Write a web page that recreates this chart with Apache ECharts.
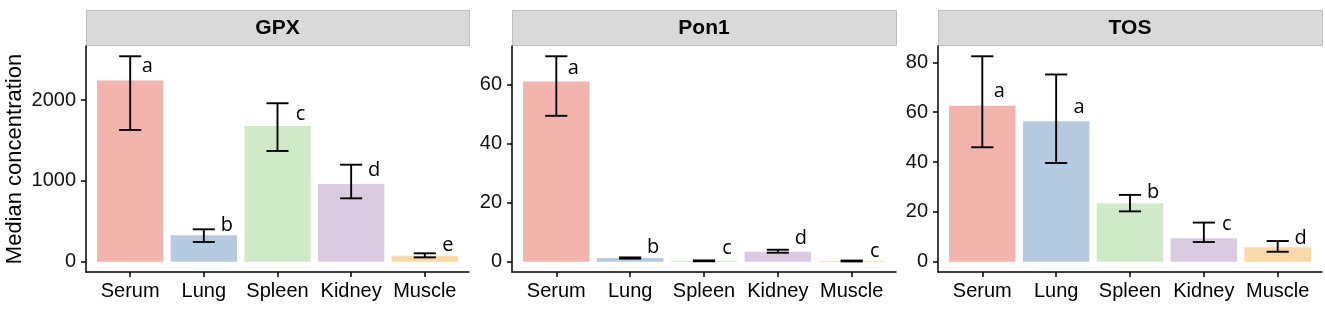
<!DOCTYPE html>
<html>
<head>
<meta charset="utf-8">
<script src="https://cdn.jsdelivr.net/npm/echarts@6/dist/echarts.min.js"></script>
<style>
html,body{margin:0;padding:0;background:#fff;}
#chart{width:1325px;height:324px;}
</style>
</head>
<body>
<div id="chart"></div>
<script>
// ---------- data ----------
const categories = ['Serum', 'Lung', 'Spleen', 'Kidney', 'Muscle'];
const panelTitles = ['GPX', 'Pon1', 'TOS'];

const gpxMedian = [2240, 327, 1679, 961, 75];
const gpxLow    = [1630, 244, 1370, 784, 54];
const gpxHigh   = [2541, 401, 1960, 1200, 104];
const gpxLetters = ['a', 'b', 'c', 'd', 'e'];
const gpxLetterY = [2414, 448, 1823, 1127, 207];
const gpxTicks = [0, 1000, 2000];

const ponMedian = [61.1, 1.26, 0.3, 3.4, 0.25];
const ponLow    = [49.5, 1.05, 0.15, 3.06, 0.1];
const ponHigh   = [69.7, 1.46, 0.45, 4.07, 0.4];
const ponLetters = ['a', 'b', 'c', 'd', 'c'];
const ponLetterY = [65.6, 4.9, 4.4, 8.0, 3.7];
const ponTicks = [0, 20, 40, 60];

const tosMedian = [62.6, 56.3, 23.5, 9.4, 5.8];
const tosLow    = [45.9, 39.6, 20.2, 7.9, 4.0];
const tosHigh   = [82.4, 75.1, 26.8, 15.7, 8.3];
const tosLetters = ['a', 'a', 'b', 'c', 'd'];
const tosLetterY = [68.2, 61.8, 28.0, 14.9, 9.2];
const tosTicks = [0, 20, 40, 60, 80];

const barColors = ['#F4B4AE', '#B4CAE1', '#D0E9C8', '#DACBE3', '#FAD8A8'];

// ---------- layout ----------
const panels = [
  {median: gpxMedian, low: gpxLow, high: gpxHigh, letters: gpxLetters, letterY: gpxLetterY, ticks: gpxTicks, left: 86, width: 383},
  {median: ponMedian, low: ponLow, high: ponHigh, letters: ponLetters, letterY: ponLetterY, ticks: ponTicks, left: 512, width: 384},
  {median: tosMedian, low: tosLow, high: tosHigh, letters: tosLetters, letterY: tosLetterY, ticks: tosTicks, left: 938, width: 384}
];
const GRID_TOP = 46, GRID_BOTTOM = 52, STRIP_TOP = 10, STRIP_H = 35;
const LABEL_FONT = 'Liberation Sans, Arial, Helvetica, sans-serif';
const catIdx = categories.map((c, i) => i);

const grids = [], xAxes = [], yAxes = [], series = [], graphics = [];

panels.forEach((p, k) => {
  const ymax = Math.max(...p.high);
  const pad = ymax * 0.05;
  grids.push({left: p.left, width: p.width, top: GRID_TOP, bottom: GRID_BOTTOM, containLabel: false});
  xAxes.push({
    gridIndex: k, type: 'value', min: -0.6, max: 4.6,
    splitLine: {show: false},
    axisLine: {show: true, onZero: false, lineStyle: {color: '#000', width: 1.5}},
    axisTick: {show: true, customValues: catIdx, length: 5, lineStyle: {color: '#000', width: 1.5}},
    axisLabel: {customValues: catIdx, formatter: v => categories[Math.round(v)], fontSize: 20, color: '#000', margin: 9, fontFamily: LABEL_FONT}
  });
  const ya = {
    gridIndex: k, type: 'value', min: -pad, max: ymax + pad,
    splitLine: {show: false},
    axisLine: {show: true, onZero: false, lineStyle: {color: '#000', width: 1.5}},
    axisTick: {show: true, customValues: p.ticks, length: 5, lineStyle: {color: '#000', width: 1.5}},
    axisLabel: {customValues: p.ticks, formatter: v => String(Math.round(v)), fontSize: 20, color: '#111', margin: 10, fontFamily: LABEL_FONT}
  };
  if (k === 0) {
    ya.name = 'Median concentration';
    ya.nameLocation = 'middle';
    ya.nameGap = 60;
    ya.nameTextStyle = {fontSize: 22, color: '#000', fontFamily: LABEL_FONT};
  }
  yAxes.push(ya);

  const rows = catIdx.map(i => [i, p.median[i], p.low[i], p.high[i], p.letterY[i]]);

  // bars
  series.push({
    type: 'custom', xAxisIndex: k, yAxisIndex: k, data: rows,
    renderItem: (params, api) => {
      const i = api.value(0);
      const top = api.coord([i - 0.45, api.value(1)]);
      const bot = api.coord([i + 0.45, 0]);
      return {type: 'rect', shape: {x: top[0], y: top[1], width: bot[0] - top[0], height: bot[1] - top[1]},
              style: {fill: barColors[i]}};
    }
  });
  // error bars
  series.push({
    type: 'custom', xAxisIndex: k, yAxisIndex: k, data: rows, z: 3,
    renderItem: (params, api) => {
      const i = api.value(0);
      const lo = api.coord([i, api.value(2)]);
      const hi = api.coord([i, api.value(3)]);
      const hw = api.size([0.15, 0])[0];
      const st = {stroke: '#000', lineWidth: 1.9};
      return {type: 'group', children: [
        {type: 'line', shape: {x1: lo[0], y1: lo[1], x2: hi[0], y2: hi[1]}, style: st},
        {type: 'line', shape: {x1: lo[0] - hw, y1: lo[1], x2: lo[0] + hw, y2: lo[1]}, style: st},
        {type: 'line', shape: {x1: hi[0] - hw, y1: hi[1], x2: hi[0] + hw, y2: hi[1]}, style: st}
      ]};
    }
  });
  // significance letters
  series.push({
    type: 'custom', xAxisIndex: k, yAxisIndex: k, data: rows, z: 4,
    renderItem: (params, api) => {
      const i = api.value(0);
      const pt = api.coord([i, api.value(4)]);
      const dx = i === 0 ? 17 : 23;
      return {type: 'text', x: pt[0] + dx, y: pt[1],
              style: {text: p.letters[i], fontSize: 20, fontFamily: 'Open Sans, sans-serif', fill: '#000', align: 'center', verticalAlign: 'middle'}};
    }
  });

  // strip header
  graphics.push({type: 'rect', left: p.left, top: STRIP_TOP, shape: {width: p.width, height: STRIP_H},
                 style: {fill: '#D9D9D9', stroke: '#BEBEBE', lineWidth: 1}});
  graphics.push({type: 'text', x: p.left + p.width / 2, y: STRIP_TOP + STRIP_H / 2 + 1,
                 style: {text: panelTitles[k], fontSize: 21, fontWeight: 'bold', fontFamily: LABEL_FONT, fill: '#000', align: 'center', verticalAlign: 'middle'}});
});

const chart = echarts.init(document.getElementById('chart'), null, {renderer: 'canvas'});
chart.setOption({
  animation: false,
  backgroundColor: '#fff',
  grid: grids, xAxis: xAxes, yAxis: yAxes, series: series, graphic: graphics
});
</script>
</body>
</html>
